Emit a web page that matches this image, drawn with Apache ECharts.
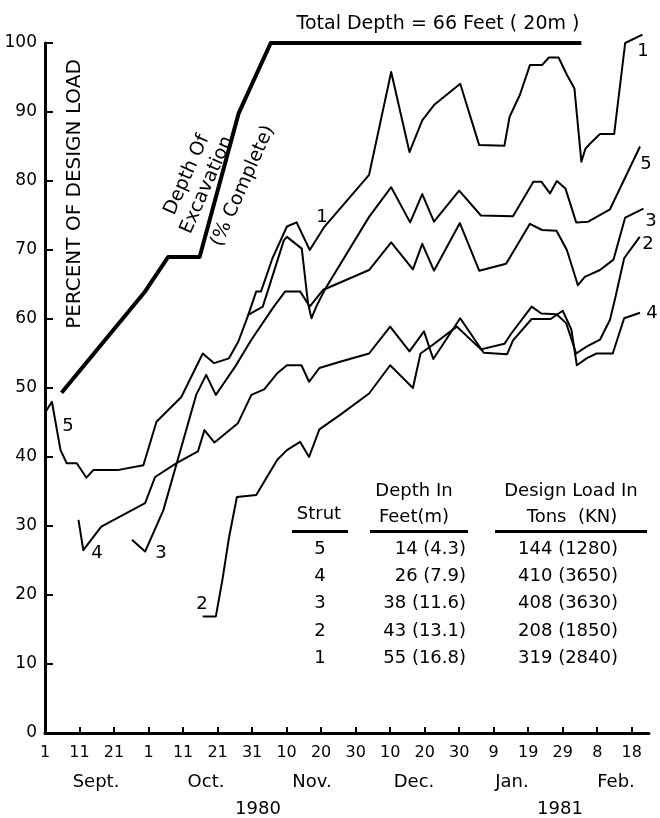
<!DOCTYPE html>
<html><head><meta charset="utf-8">
<script src="https://cdn.jsdelivr.net/npm/echarts@6/dist/echarts.min.js"></script>
<style>html,body{margin:0;padding:0;background:#fff}#c{width:660px;height:818px}</style>
</head><body><div id="c"></div>
<script>
// x = days after 1 Sept 1980, y = percent of design load
const tickDays = [0,10,20,30,40,50,60,70,80,90,100,110,120,130,140,150,160,170];
const tickLabels = ['1','11','21','1','11','21','31','10','20','30','10','20','30','9','19','29','8','18'];
const monthLabels = ['Sept.','Oct.','Nov.','Dec.','Jan.','Feb.'];
const yearLabels = ['1980','1981'];

const excavation = [[4.8,49.3],[29,64],[35.7,69],[44.8,69],[56.1,89.8],[65.4,100],[155.4,100]];

const strut5 = [[0,46.4],[2,48],[4.5,41],[6.3,39.1],[9.2,39.1],[12,37],[14,38.1],[21,38.1],[28.5,38.8],[32.3,45.1],[39.5,48.7],[45.7,55],[49,53.6],[53.3,54.3],[56,56.7],[58.9,60.6],[63.1,61.8],[69.2,71.4],[70.1,71.9],[74.4,70.2],[76.2,62.3],[77.2,60.1],[78.6,61.8],[81,64.2],[93.9,74.8],[100.3,79.1],[105.8,74],[109.3,78.1],[112.7,74.1],[120,78.6],[126.3,75],[135.6,74.9],[141.5,79.9],[143.8,79.9],[146.3,78.2],[148.3,80],[150.8,78.9],[153.9,74],[157.4,74.1],[163.7,75.9],[172.4,85]];

const strut4 = [[9.7,30.9],[11.1,26.5],[16.3,29.9],[29,33.3],[31.9,37.1],[38.1,39.1],[44.3,40.8],[46.2,43.9],[49.1,42.1],[55.9,44.9],[59.8,49],[63.5,49.8],[67.2,52.1],[70.1,53.3],[74.3,53.3],[76.5,50.9],[79.5,52.9],[85.5,53.8],[93.9,55],[100,58.9],[105.6,55.3],[109.8,58.2],[112.5,54.2],[120.3,60.1],[127.1,55.1],[133.9,54.9],[135.6,56.9],[141,60],[146.5,60],[150,61.2],[152.5,58.5],[154.1,53.3],[156.9,54.3],[159.8,55],[164.5,55],[167.8,60.1],[172.4,60.9]];

const strut3 = [[25.2,28],[29,26.3],[34.3,32.3],[43.8,49],[46.7,51.9],[49.5,49],[51.4,50.4],[55.1,53.1],[59.8,57],[66.3,61.8],[69.6,64],[73.9,64],[76.7,61.8],[80.5,64.2],[93.9,67.1],[100.3,71.1],[106.6,67.2],[109.3,70.9],[112.7,67],[120.2,73.9],[125.8,67],[133.6,68],[140.5,73.8],[144,72.9],[148.2,72.8],[151.2,70],[154.4,64.9],[156.4,66.1],[160.8,67.1],[164.7,68.6],[168.1,74.7],[173.4,76]];

const strut2 = [[45.7,16.9],[49.5,16.9],[51.4,22.2],[53.3,28.3],[55.6,34.2],[61.2,34.5],[67.3,39.6],[70.1,41],[73.9,42.2],[76.5,40],[79.5,44],[85.5,46.1],[93.9,49.2],[100,53.3],[106.6,50],[108.8,55],[112.2,56.2],[119.3,58.9],[126.3,55.6],[133.1,56.4],[135.1,57.9],[141,61.8],[143.8,60.8],[148.2,60.7],[151,59.4],[153.9,55],[156.9,56],[160.8,57],[163.7,59.9],[165.2,63],[167.8,68.8],[172.3,71.9]];

const strut1 = [[58.9,60.6],[61.2,64],[62.6,64],[65.9,68.8],[70.1,73.4],[72.9,74],[76.7,70],[81,73.4],[93.9,80.9],[100.3,95.8],[105.6,84.2],[109.3,88.8],[112.7,91],[120.3,94.1],[125.8,85.2],[133.1,85.1],[134.6,89.3],[137.6,92.5],[140.5,96.8],[144,96.8],[146,97.9],[148.8,97.9],[151.2,95.4],[153.4,93.4],[155.4,82.8],[156.6,84.7],[157.9,85.4],[160.8,86.8],[164.9,86.8],[168.1,100],[173.1,101.2]];

const tableStrut = ['5','4','3','2','1'];
const tableDepth = ['14 (4.3)','26 (7.9)','38 (11.6)','43 (13.1)','55 (16.8)'];
const tableLoad = ['144 (1280)','410 (3650)','408 (3630)','208 (1850)','319 (2840)'];

const FONT = '"DejaVu Sans"';
const chart = echarts.init(document.getElementById('c'), null, {renderer:'canvas', width:660, height:818});

function txt(text, x, y, size, opts) {
  opts = opts || {};
  const a = opts.align || 'center';
  return {type:'text', x:x, y:y, rotation: opts.rotation || 0, silent:true,
    style:{text:text, fill:'#000', font: size + 'px ' + FONT,
      align:a, textAlign:a, verticalAlign:'middle', textVerticalAlign:'middle'}};
}
function bar(x, y, w, h) {
  return {type:'rect', silent:true, shape:{x:x, y:y, width:w, height:h}, style:{fill:'#000'}};
}
function lineSeries(data, width) {
  return {type:'line', data:data, symbol:'none', clip:false, silent:true, animation:false,
    lineStyle:{color:'#000', width:width, join:'round'}};
}

const labelMap = {};
tickDays.forEach((d, i) => { labelMap[d] = tickLabels[i]; });

const graphics = [];
graphics.push(txt('Total Depth = 66 Feet ( 20m )', 438, 24, 19));
graphics.push(txt('PERCENT OF DESIGN LOAD', 75, 194, 20, {rotation: Math.PI/2}));
const rot = 66 * Math.PI / 180;
graphics.push(txt('Depth Of', 187, 175, 19, {rotation: rot}));
graphics.push(txt('Excavation', 207, 185, 19, {rotation: rot}));
graphics.push(txt('(% Complete)', 243, 186, 19, {rotation: rot}));
// strut number labels
[['5',68,426],['4',97,553],['3',161,553],['2',202,604],['1',322,217],
 ['1',643,51],['5',646,164],['3',651,221],['2',648,244],['4',652,313]].forEach(l => {
  graphics.push(txt(l[0], l[1], l[2], 18));
});
// month / year labels
const monthX = [96,206,312,414,512,616];
monthLabels.forEach((m, i) => graphics.push(txt(m, monthX[i], 782, 18)));
graphics.push(txt(yearLabels[0], 258, 809, 18));
graphics.push(txt(yearLabels[1], 560, 809, 18));
// table
graphics.push(txt('Strut', 319, 514, 18));
graphics.push(txt('Depth In', 414, 491, 18));
graphics.push(txt('Feet(m)', 414, 517, 18));
graphics.push(txt('Design Load In', 571, 491, 18));
graphics.push(txt('Tons  (KN)', 572, 517, 18));
graphics.push(bar(292, 530, 56, 3));
graphics.push(bar(370, 530, 98, 3));
graphics.push(bar(495, 530, 152, 3));
const rowY = [549, 576, 603, 631, 658];
tableStrut.forEach((s, i) => {
  graphics.push(txt(s, 320, rowY[i], 18));
  graphics.push(txt(tableDepth[i], 466, rowY[i], 18, {align:'right'}));
  graphics.push(txt(tableLoad[i], 618, rowY[i], 18, {align:'right'}));
});

chart.setOption({
  animation:false,
  backgroundColor:'#fff',
  grid:{left:45, top:43, width:604, height:690, containLabel:false},
  xAxis:{type:'value', min:0, max:175, splitLine:{show:false},
    axisLine:{show:true, onZero:false, lineStyle:{color:'#000', width:3}},
    axisTick:{show:true, inside:true, length:6, customValues:tickDays, lineStyle:{color:'#000', width:2}},
    axisLabel:{show:true, customValues:tickDays, margin:12, color:'#000', fontSize:16, fontFamily:FONT,
      formatter:(v) => labelMap[v] !== undefined ? labelMap[v] : ''}},
  yAxis:{type:'value', min:0, max:100, interval:10, splitLine:{show:false},
    axisLine:{show:true, onZero:false, lineStyle:{color:'#000', width:3}},
    axisTick:{show:true, inside:true, length:8, lineStyle:{color:'#000', width:2}},
    axisLabel:{show:true, margin:8, color:'#000', fontSize:17, fontFamily:FONT}},
  series:[
    lineSeries(excavation, 4),
    lineSeries(strut5, 2),
    lineSeries(strut4, 2),
    lineSeries(strut3, 2),
    lineSeries(strut2, 2),
    lineSeries(strut1, 2)
  ],
  graphic:{elements:graphics}
});
</script></body></html>
